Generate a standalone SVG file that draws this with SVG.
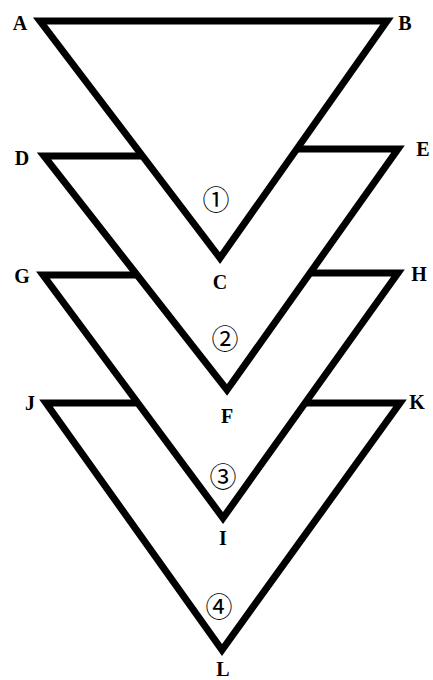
<svg xmlns="http://www.w3.org/2000/svg" width="433" height="680" viewBox="0 0 433 680">
<style>
.ln{fill:none;stroke:#000;stroke-width:7;stroke-linejoin:miter;stroke-miterlimit:10;stroke-linecap:butt}
.lb{font-family:"Liberation Serif","Times New Roman",serif;font-weight:bold;font-size:20px;text-anchor:middle;fill:#000}
.num{font-family:"Noto Sans CJK SC","DejaVu Sans",sans-serif;font-size:27px;text-anchor:middle;dominant-baseline:central;fill:#000}
</style>
<rect width="433" height="680" fill="#fff"/>
<g id="connectors">
<polygon class="ln" points="40,21 387,21 220,258"/>
<polyline class="ln" points="141,156 44,156 227,390 398,149 297,149"/>
<polyline class="ln" points="136,275 43,275 223,518 398,273 310,273"/>
<polyline class="ln" points="137,403 46,403 222,650 400,403 305,403"/>
</g>
<g id="A"><text class="lb" x="20" y="30">A</text></g>
<g id="B"><text class="lb" x="405" y="30">B</text></g>
<g id="C"><text class="lb" x="220" y="289">C</text></g>
<g id="D"><text class="lb" x="22" y="165">D</text></g>
<g id="E"><text class="lb" x="423" y="156">E</text></g>
<g id="F"><text class="lb" x="227" y="423">F</text></g>
<g id="G"><text class="lb" x="22" y="283">G</text></g>
<g id="H"><text class="lb" x="419" y="281">H</text></g>
<g id="I"><text class="lb" x="223" y="545">I</text></g>
<g id="J"><text class="lb" x="30" y="410">J</text></g>
<g id="K"><text class="lb" x="417" y="409">K</text></g>
<g id="L"><text class="lb" x="223" y="676">L</text></g>
<g id="n1"><text class="num" x="216" y="198">①</text></g>
<g id="n2"><text class="num" x="225" y="337">②</text></g>
<g id="n3"><text class="num" x="223" y="475">③</text></g>
<g id="n4"><text class="num" x="219" y="605">④</text></g>
</svg>
